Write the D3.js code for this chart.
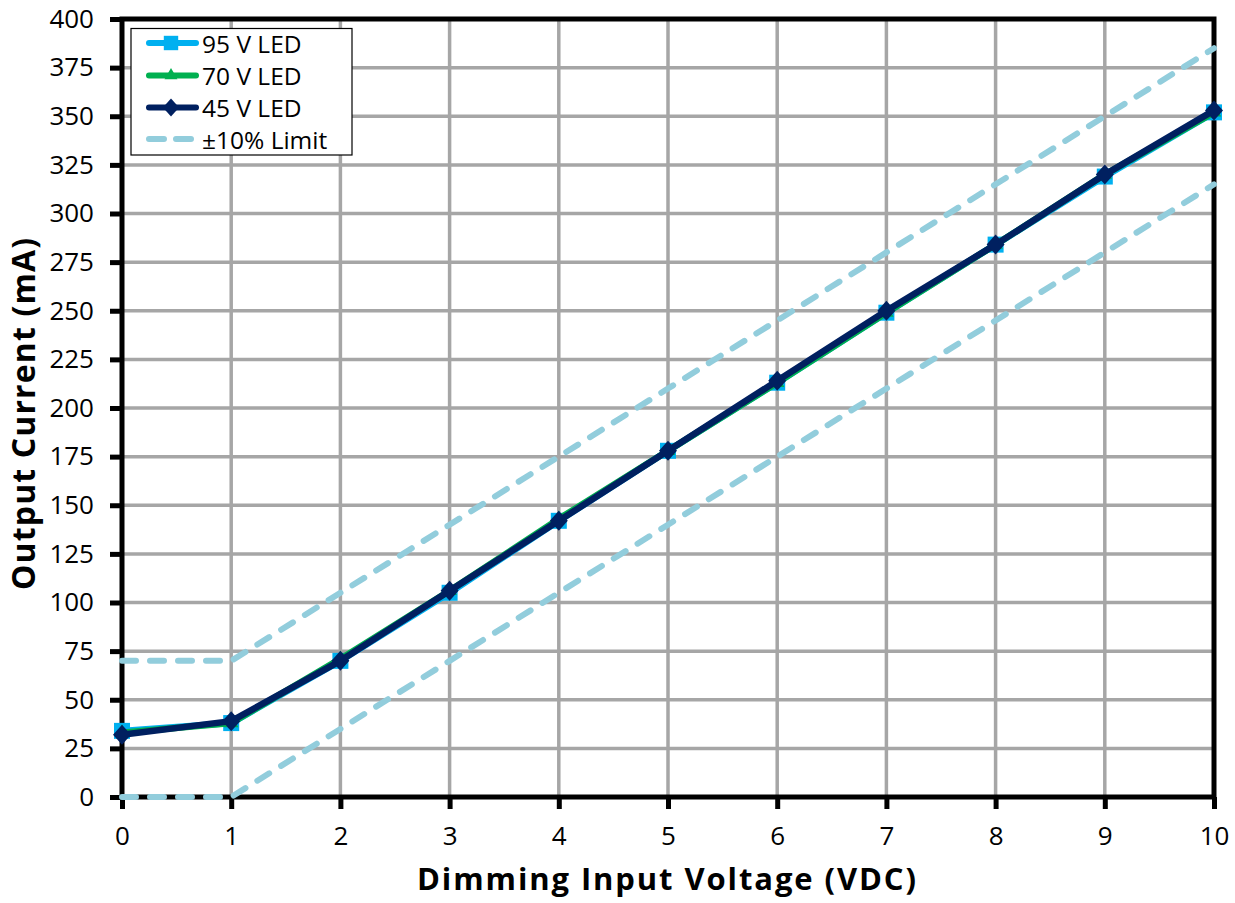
<!DOCTYPE html>
<html><head><meta charset="utf-8">
<script src="https://cdn.jsdelivr.net/npm/d3@7"></script>
<style>body{margin:0;background:#fff}svg{display:block}</style>
</head><body>
<svg id="c" width="1235" height="903"></svg>
<script>
const xVals = [0,1,2,3,4,5,6,7,8,9,10];
const led95 = [34,38,70,105,142,178,213,249,284,319,352];
const led70 = [33,38,71,106,143,178,213,249,284,320,352];
const led45 = [32,39,70,106,142,178,214,250,284,320,353];
const upperLimit = [70,70,105,140,175,210,245,280,315,350,385];
const lowerLimit = [0,0,35,70,105,140,175,210,245,280,315];
const yTicks = [0,25,50,75,100,125,150,175,200,225,250,275,300,325,350,375,400];
const xTicks = [0,1,2,3,4,5,6,7,8,9,10];
const legendLabels = ["95 V LED","70 V LED","45 V LED","\u00b110% Limit"];

const svg = d3.select("#c");
const L=122, R=1214, T=19, B=797;
const x = d3.scaleLinear().domain([0,10]).range([L,R]);
const y = d3.scaleLinear().domain([0,400]).range([B,T]);
const font = "'Open Sans', 'Noto Sans', sans-serif";
const titleFont = "'Open Sans', 'Noto Sans', sans-serif";

// grid
const g = svg.append("g");
g.selectAll(".gy").data(yTicks.slice(1,-1)).enter().append("line")
  .attr("x1",L).attr("x2",R).attr("y1",d=>y(d)).attr("y2",d=>y(d))
  .attr("stroke","#a6a6a6").attr("stroke-width",3.5);
g.selectAll(".gx").data(xTicks.slice(1,-1)).enter().append("line")
  .attr("y1",T).attr("y2",B).attr("x1",d=>x(d)).attr("x2",d=>x(d))
  .attr("stroke","#a6a6a6").attr("stroke-width",3.5);

// axes
const yAxis = d3.axisLeft(y).tickValues(yTicks).tickSize(12).tickPadding(16);
const xAxis = d3.axisBottom(x).tickValues(xTicks).tickSize(12).tickPadding(18);
const ya = svg.append("g").attr("transform",`translate(${L},0)`).call(yAxis);
const xa = svg.append("g").attr("transform",`translate(0,${B})`).call(xAxis);
[ya,xa].forEach(a=>{
  a.select(".domain").remove();
  a.selectAll(".tick line").attr("stroke","#000").attr("stroke-width",5);
  a.selectAll(".tick text").attr("font-family",font).attr("font-size",26).attr("fill","#000");
});

// frame
svg.append("rect").attr("x",L).attr("y",T).attr("width",R-L).attr("height",B-T)
  .attr("fill","none").attr("stroke","#000").attr("stroke-width",5);

// limits
const line = d3.line().x((d,i)=>x(xVals[i])).y(d=>y(d));
[upperLimit,lowerLimit].forEach(arr=>{
  svg.append("path").attr("d",line(arr)).attr("fill","none")
    .attr("stroke","#92cddc").attr("stroke-width",6).attr("stroke-linecap","round")
    .attr("stroke-dasharray","14,14");
});

// series
const series = [
  {data:led95,color:"#00b0f0",marker:"square"},
  {data:led70,color:"#00b050",marker:"triangle"},
  {data:led45,color:"#002060",marker:"diamond"}
];
function marker(sel,type,color,s){
  s = s||1;
  if(type==="square"){
    sel.append("rect").attr("x",-8*s).attr("y",-8*s).attr("width",16*s).attr("height",16*s).attr("fill",color);
  } else if(type==="triangle"){
    sel.append("path").attr("d",d3.symbol(d3.symbolTriangle,90*s*s)()).attr("fill",color);
  } else {
    sel.append("path").attr("d",`M0,${-10*s}L${9*s},0L0,${10*s}L${-9*s},0Z`).attr("fill",color);
  }
}
series.forEach(s=>{
  svg.append("path").attr("d",line(s.data)).attr("fill","none")
    .attr("stroke",s.color).attr("stroke-width",6.5).attr("stroke-linejoin","round");
  s.data.forEach((v,i)=>{
    const m = svg.append("g").attr("transform",`translate(${x(xVals[i])},${y(v)})`);
    marker(m,s.marker,s.color);
  });
});

// legend
const lg = svg.append("g");
lg.append("rect").attr("x",131).attr("y",28.5).attr("width",221).attr("height",126.5)
  .attr("fill","#fff").attr("stroke","#000").attr("stroke-width",1.2);
const rows = [43,75.5,107.5,139];
series.forEach((s,i)=>{
  lg.append("line").attr("x1",149).attr("x2",196).attr("y1",rows[i]).attr("y2",rows[i])
    .attr("stroke",s.color).attr("stroke-width",6).attr("stroke-linecap","round");
  const m = lg.append("g").attr("transform",`translate(171,${rows[i]})`);
  marker(m,s.marker,s.color,0.9);
});
lg.append("line").attr("x1",149).attr("x2",196).attr("y1",rows[3]).attr("y2",rows[3])
  .attr("stroke","#92cddc").attr("stroke-width",6).attr("stroke-linecap","round")
  .attr("stroke-dasharray","15,12");
legendLabels.forEach((t,i)=>{
  lg.append("text").attr("x",202).attr("y",rows[i]+9.5).text(t)
    .attr("font-family",font).attr("font-size",24.5).attr("fill","#000");
});

// axis titles
svg.append("text").attr("x",417).attr("y",890)
  .attr("font-family",titleFont).attr("font-weight","bold").attr("font-size",31)
  .attr("textLength",499).attr("lengthAdjust","spacing").text("Dimming Input Voltage (VDC)");
svg.append("text").attr("transform",`translate(35,590) rotate(-90)`)
  .attr("font-family",titleFont).attr("font-weight","bold").attr("font-size",32)
  .attr("textLength",352).attr("lengthAdjust","spacing").text("Output Current (mA)");
</script>
</body></html>
